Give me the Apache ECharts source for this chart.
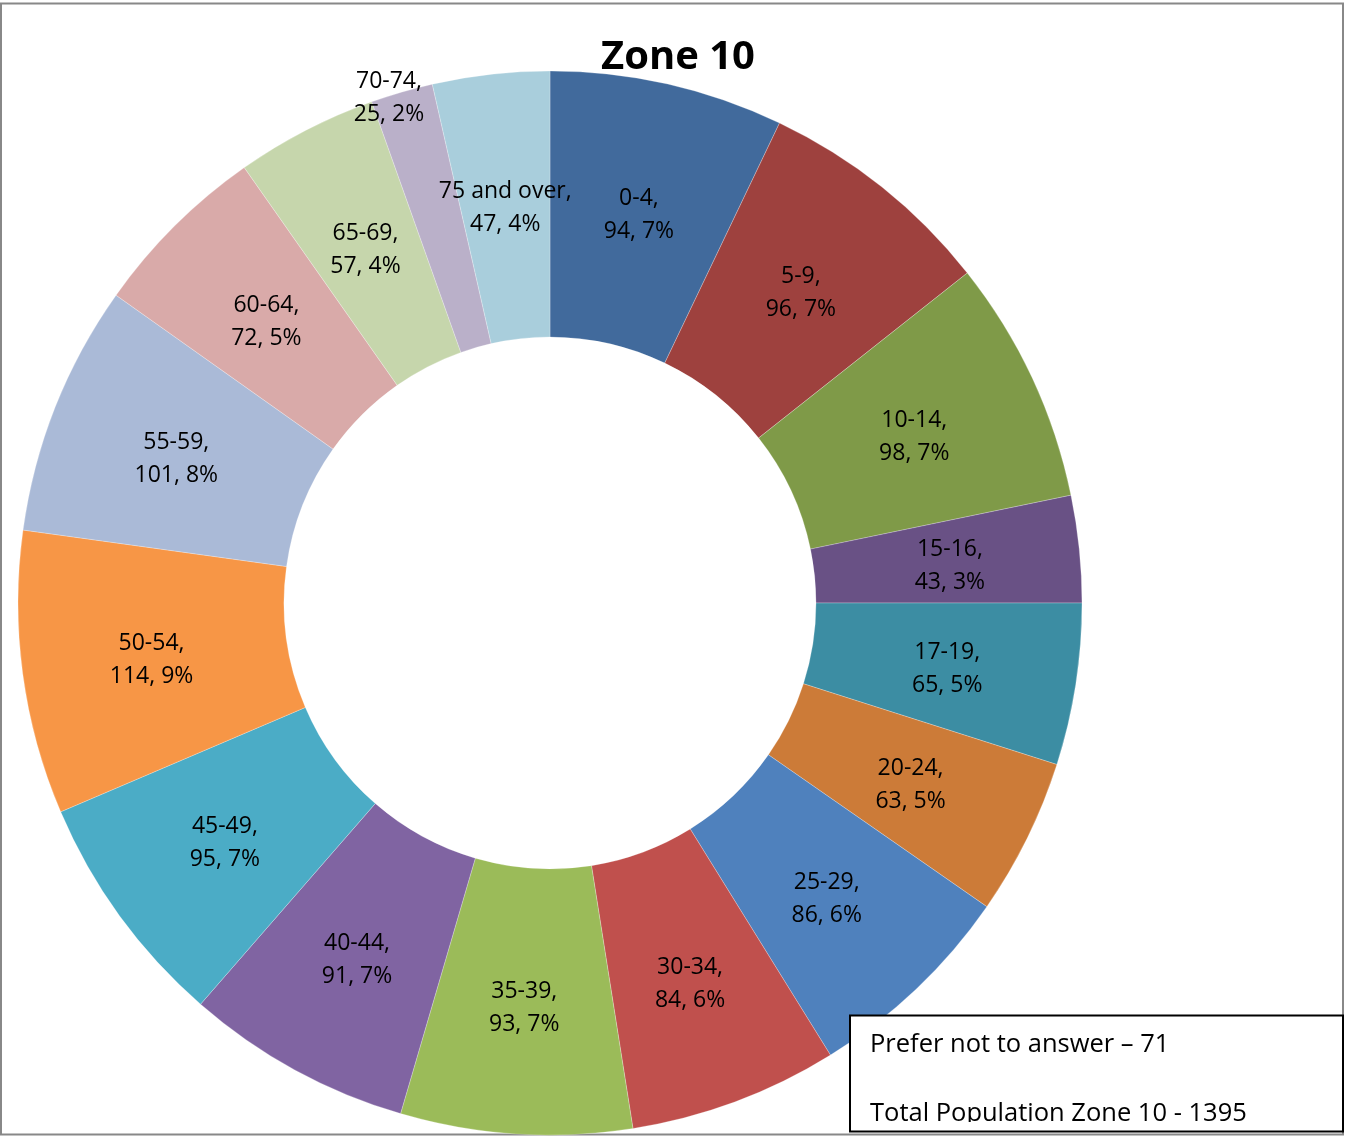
<!DOCTYPE html>
<html>
<head>
<meta charset="utf-8">
<script src="https://cdn.jsdelivr.net/npm/echarts@6/dist/echarts.min.js"></script>
<style>
  html, body { margin: 0; padding: 0; background: #fff; }
  #chart { width: 1345px; height: 1136px; }
</style>
</head>
<body>
<div id="chart"></div>
<script>
// age groups and counts
const ageGroups = ['0-4', '5-9', '10-14', '15-16', '17-19', '20-24', '25-29', '30-34', '35-39',
  '40-44', '45-49', '50-54', '55-59', '60-64', '65-69', '70-74', '75 and over'];
const counts = [94, 96, 98, 43, 65, 63, 86, 84, 93, 91, 95, 114, 101, 72, 57, 25, 47];
const sliceColors = ['#416A9C', '#9E413E', '#7F9A48', '#695185', '#3C8DA3', '#CC7B38', '#4F81BD',
  '#C0504D', '#9BBB59', '#8064A2', '#4BACC6', '#F79646', '#AABAD7', '#D9AAA9', '#C6D6AC', '#BAB0C9', '#A9CEDC'];
const noteLines = ['Prefer not to answer \u2013 71', 'Total Population Zone 10 - 1395'];

const total = counts.reduce((a, b) => a + b, 0);
const chart = echarts.init(document.getElementById('chart'));
const font = '"Open Sans", "Liberation Sans", sans-serif';

const pieData = ageGroups.map((name, i) => {
  const item = { name: name, value: counts[i], itemStyle: { color: sliceColors[i] } };
  // the 70-74 label sits out at the rim
  if (name === '70-74') item.label = { offset: [-49, -119] };
  return item;
});

chart.setOption({
  animation: false,
  title: {
    text: 'Zone 10',
    left: 673,
    top: 33,
    textAlign: 'center',
    textStyle: { fontFamily: font, fontSize: 40, fontWeight: 'bold', color: '#000' }
  },
  series: [{
    type: 'pie',
    center: [550, 603],
    radius: [266, 532],
    startAngle: 90,
    clockwise: true,
    avoidLabelOverlap: false,
    itemStyle: { borderColor: 'rgba(255,255,255,0.5)', borderWidth: 0.5 },
    label: {
      show: true,
      position: 'inside',
      color: '#000',
      fontFamily: font,
      fontSize: 23,
      lineHeight: 33,
      align: 'center',
      offset: [0, 4],
      formatter: p => p.name + ',\n' + p.value + ', ' + Math.round(p.value / total * 100) + '%'
    },
    labelLine: { show: false },
    emphasis: { disabled: true },
    data: pieData
  }],
  graphic: [
    // outer frame
    { type: 'rect', shape: { x: 1, y: 3.5, width: 1342, height: 1131 },
      style: { fill: 'none', stroke: '#888', lineWidth: 2 }, z: 1 },
    // note box
    { type: 'rect', shape: { x: 850, y: 1015.5, width: 493, height: 116 },
      style: { fill: '#fff', stroke: 'none' }, z: 10 },
    { type: 'text', x: 870, y: 1032, z: 11,
      style: { text: noteLines[0], fontFamily: font, fontSize: 25.5, fill: '#000' } },
    { type: 'text', x: 870, y: 1101, z: 11,
      style: { text: noteLines[1], fontFamily: font, fontSize: 25.5, fill: '#000' } },
    // the box cuts the last line off at the bottom
    { type: 'rect', shape: { x: 852, y: 1122, width: 489, height: 9 },
      style: { fill: '#fff' }, z: 12 },
    { type: 'rect', shape: { x: 850, y: 1015.5, width: 493, height: 116 },
      style: { fill: 'none', stroke: '#000', lineWidth: 2 }, z: 13 }
  ]
});
</script>
</body>
</html>
